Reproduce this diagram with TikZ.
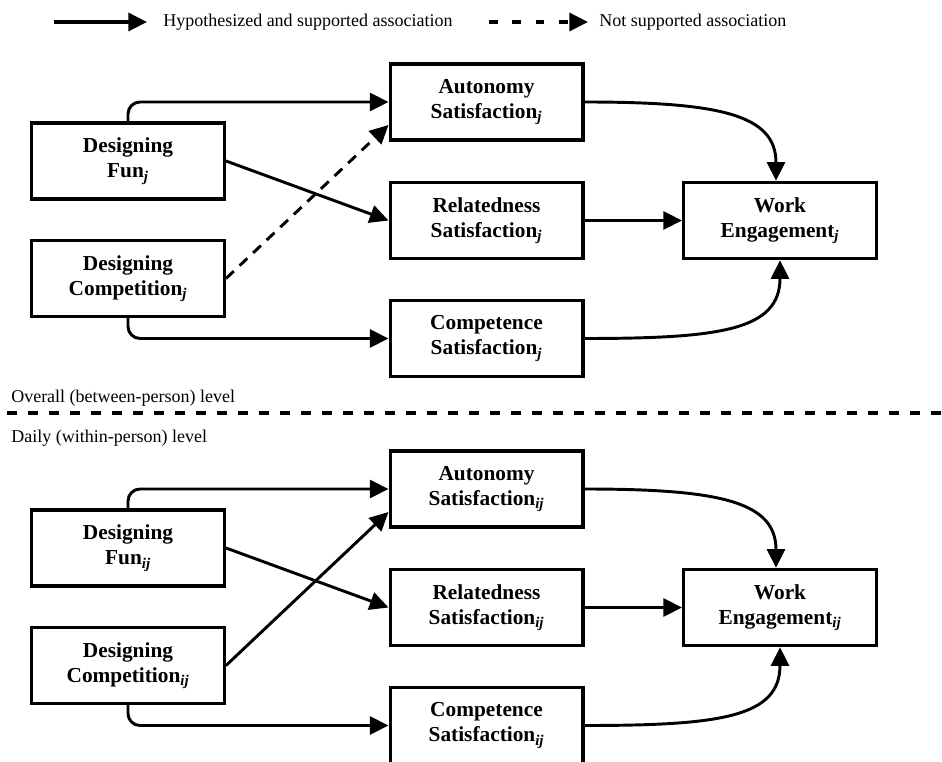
\documentclass[tikz,border=0pt]{standalone}
\usepackage{fontspec}
\setmainfont{Liberation Serif}
\usetikzlibrary{arrows.meta}
\newcommand\mysub[1]{\textsubscript{\textit{#1}}}
\begin{document}
\begin{tikzpicture}[x={(0.75pt,0)}, y={(0,-0.75pt)},
  box/.style={draw, line width=2.6pt, minimum width=144.4pt, minimum height=57pt,
    inner sep=0pt, align=center, font=\fontsize{16}{18.75}\selectfont\bfseries},
  conn/.style={line width=2.2pt, -{Triangle[length=14pt,width=13.5pt]}},
  notsup/.style={conn, dash pattern=on 8pt off 6pt},
  lab/.style={anchor=base west, inner sep=0pt, font=\fontsize{13.5}{16}\selectfont},
  sepline/.style={line width=3pt, dash pattern=on 7.5pt off 8.25pt},
]
\useasboundingbox (0,0) rectangle (942,762);
\clip (0,0) rectangle (942,762);

% legend
\coordinate (l1s) at (54,22);
\coordinate (l1e) at (147,22);
\draw[conn, line width=2.6pt] (l1s) -- (l1e);
\node[lab] (l1t) at (163,27) {Hypothesized and supported association};
\coordinate (l2s) at (489,22);
\coordinate (l2e) at (588,22);
\draw[conn, line width=2.6pt, dash pattern=on 6.4pt off 11.2pt] (l2s) -- (l2e);
\node[lab] (l2t) at (599,27) {Not supported association};

% top (between-person) model
\node[box] (fun) at (128,161) {Designing\\Fun\mysub{j}};
\node[box] (comp) at (128,278.5) {Designing\\Competition\mysub{j}};
\node[box] (aut) at (486.5,102) {Autonomy\\Satisfaction\mysub{j}};
\node[box] (rel) at (486.5,220.5) {Relatedness\\Satisfaction\mysub{j}};
\node[box] (cmp) at (486.5,338.5) {Competence\\Satisfaction\mysub{j}};
\node[box] (work) at (780,220.5) {Work\\Engagement\mysub{j}};

\draw[conn, rounded corners=9pt] (fun.north) |- (aut.west);
\draw[conn] (fun.east) -- (rel.west);
\draw[notsup] (comp.east) -- ([yshift=-17.25pt]aut.west);
\draw[conn, rounded corners=9pt] (comp.south) |- (cmp.west);
\draw[conn] (aut.east) .. controls +(136,0) and +(0,-66) .. ([xshift=-3pt]work.north);
\draw[conn] (rel.east) -- (work.west);
\draw[conn] (cmp.east) .. controls +(136,0) and +(0,70) .. (work.south);

% separator
\node[lab] (overall) at (11,403) {Overall (between-person) level};
\coordinate (sepL) at (7,413);
\coordinate (sepR) at (942,413);
\draw[sepline] (sepL) -- (sepR);
\node[lab] (daily) at (11,443) {Daily (within-person) level};

% bottom (within-person) model
\node[box] (funB) at (128,548) {Designing\\Fun\mysub{ij}};
\node[box] (compB) at (128,665.5) {Designing\\Competition\mysub{ij}};
\node[box] (autB) at (486.5,489) {Autonomy\\Satisfaction\mysub{ij}};
\node[box] (relB) at (486.5,607.5) {Relatedness\\Satisfaction\mysub{ij}};
\node[box] (cmpB) at (486.5,725.5) {Competence\\Satisfaction\mysub{ij}};
\node[box] (workB) at (780,607.5) {Work\\Engagement\mysub{ij}};

\draw[conn, rounded corners=9pt] (funB.north) |- (autB.west);
\draw[conn] (funB.east) -- (relB.west);
\draw[conn] (compB.east) -- ([yshift=-17.25pt]autB.west);
\draw[conn, rounded corners=9pt] (compB.south) |- (cmpB.west);
\draw[conn] (autB.east) .. controls +(136,0) and +(0,-66) .. ([xshift=-3pt]workB.north);
\draw[conn] (relB.east) -- (workB.west);
\draw[conn] (cmpB.east) .. controls +(136,0) and +(0,70) .. (workB.south);
\end{tikzpicture}
\end{document}
